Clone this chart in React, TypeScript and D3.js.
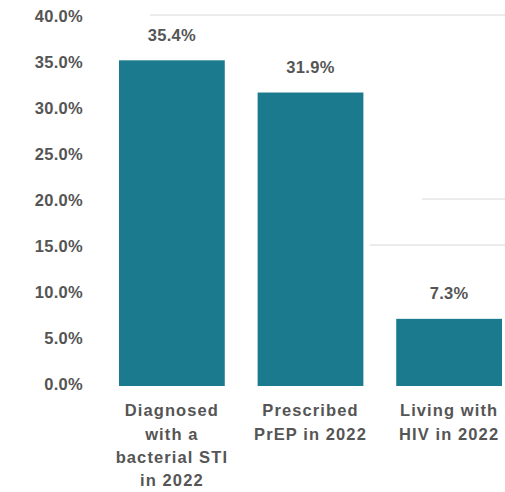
import React from "react";
import * as d3 from "d3";

const categories: string[][] = [
  ["Diagnosed", "with a", "bacterial STI", "in 2022"],
  ["Prescribed", "PrEP in 2022"],
  ["Living with", "HIV in 2022"],
];
const values: number[] = [35.4, 31.9, 7.3];
const yTicks: number[] = [0, 5, 10, 15, 20, 25, 30, 35, 40];
const faintGrid: { v: number; x0: number }[] = [
  { v: 40, x0: 150 },
  { v: 20, x0: 422 },
  { v: 15, x0: 370 },
];

const W = 505;
const H = 492;
const FONT = "'Liberation Sans', Arial, sans-serif";
const TEXT = "#555555";
const BAR = "#1b7a8d";

export default function App() {
  const keys = categories.map((_, i) => String(i));
  const x = d3.scaleBand<string>().domain(keys).range([119, 502]).paddingInner(0.237).paddingOuter(0);
  const y = d3.scaleLinear().domain([0, 40]).range([386, 18]);
  const fmt = (v: number) => d3.format(".1f")(v) + "%";

  return (
    <svg width={W} height={H} style={{ position: "absolute", left: 0, top: 0, background: "#fff" }}>
      {faintGrid.map((g, i) => (
        <line key={i} x1={g.x0} x2={W} y1={y(g.v) - 3} y2={y(g.v) - 3} stroke="#e4e4e4" strokeWidth={1.5} />
      ))}
      {yTicks.map((t) => (
        <text
          key={t}
          x={83}
          y={y(t)}
          textAnchor="end"
          dominantBaseline="middle"
          fontFamily={FONT}
          fontWeight="bold"
          fontSize={16.5}
          letterSpacing={0.3}
          fill={TEXT}
        >
          {fmt(t)}
        </text>
      ))}
      {values.map((v, i) => {
        const bx = x(String(i))!;
        const bw = x.bandwidth();
        return (
          <g key={i}>
            <rect x={bx} y={y(v)} width={bw} height={y(0) - y(v)} fill={BAR} />
            <text
              x={bx + bw / 2}
              y={y(v) - 24}
              textAnchor="middle"
              dominantBaseline="middle"
              fontFamily={FONT}
              fontWeight="bold"
              fontSize={16.5}
              letterSpacing={0.3}
              fill={TEXT}
            >
              {fmt(v)}
            </text>
            {categories[i].map((line, j) => (
              <text
                key={j}
                x={bx + bw / 2}
                y={412 + j * 23.3}
                textAnchor="middle"
                dominantBaseline="middle"
                fontFamily={FONT}
                fontWeight="bold"
                fontSize={16.5}
                letterSpacing={1.1}
                fill={TEXT}
              >
                {line}
              </text>
            ))}
          </g>
        );
      })}
    </svg>
  );
}
